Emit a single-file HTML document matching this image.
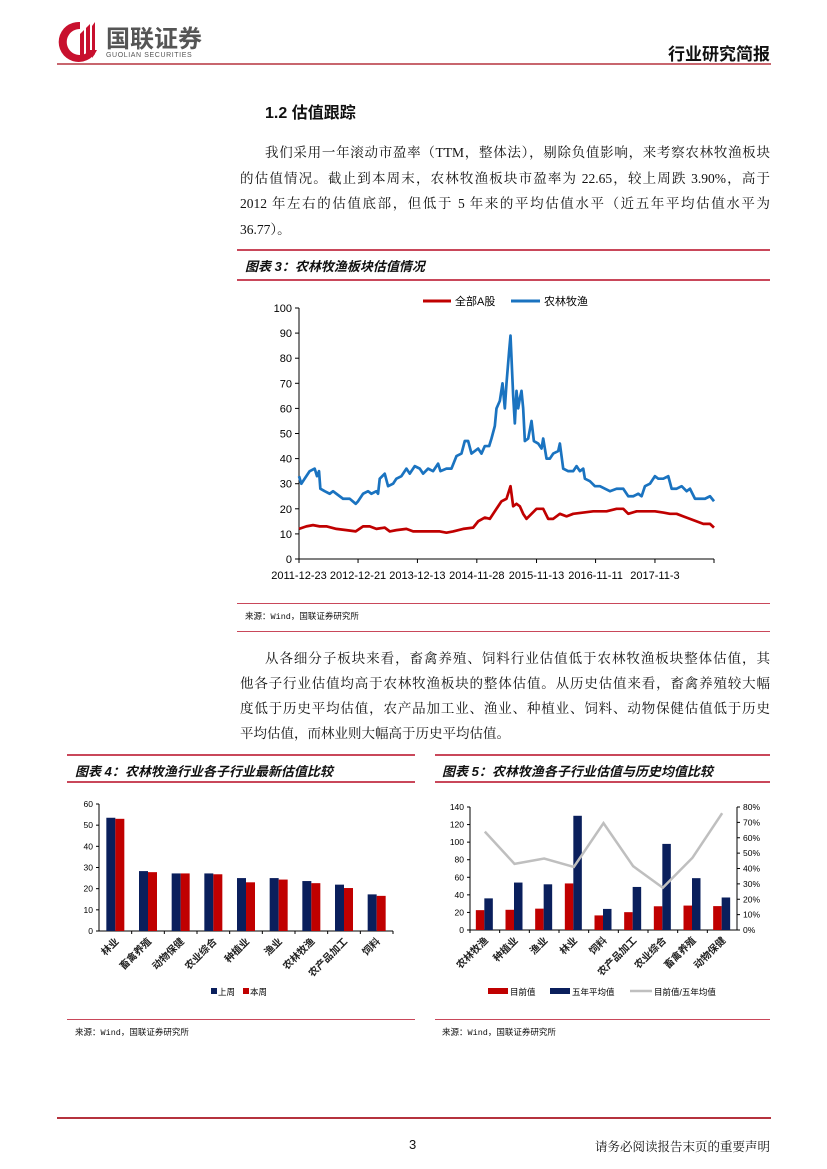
<!DOCTYPE html>
<html><head><meta charset="utf-8">
<style>
body{margin:0;background:#fff;}
#page{position:relative;width:827px;height:1169px;overflow:hidden;background:#fff;font-family:"Liberation Serif","Noto Serif CJK SC",serif;color:#111;}
.abs{position:absolute;white-space:nowrap;}
.pl{position:absolute;font-size:13.5px;text-align:justify;text-align-last:justify;white-space:nowrap;}
.ttl{position:absolute;font-family:"Liberation Sans","Noto Sans CJK SC",sans-serif;font-weight:bold;font-style:italic;font-size:13px;}
.src{position:absolute;font-size:8.5px;font-family:"Liberation Mono","Noto Sans CJK SC",monospace;}
.hl{position:absolute;height:2px;background:#c9475a;}
svg text{font-family:"Liberation Sans","Noto Sans CJK SC",sans-serif;}
</style></head><body>
<div id="page">
<svg class="abs" style="left:0;top:0" width="827" height="1169">
  <g>
    <path d="M80 22 A20 20 0 1 0 97 50 L90 50 A13 13 0 1 1 80 29 Z" fill="#c8102e"/>
    <path d="M80 58 L80 34 L84 30 L84 58 Z M86 58 L86 28 L90 24 L90 58 Z M92 58 L92 26 L95 22 L95 54 Z" fill="#c8102e"/>
    <text x="106" y="47" font-size="24" font-weight="bold" fill="#555">国联证券</text>
    <text x="106" y="57" font-size="7" fill="#555" letter-spacing="0.6">GUOLIAN SECURITIES</text>
  </g>
  <line x1="57" y1="64" x2="771" y2="64" stroke="#b5333e" stroke-width="1.5"/>
  <line x1="57" y1="1118" x2="771" y2="1118" stroke="#b5333e" stroke-width="2"/>
  <g id="c3"></g>
  <g id="c4"></g>
  <g id="c5"></g>
</svg>

<div class="abs" style="right:57px;top:40px;font-size:17px;font-weight:bold;font-family:'Liberation Sans','Noto Sans CJK SC',sans-serif">行业研究简报</div>
<div class="abs" style="left:265px;top:99px;font-size:16px;font-weight:bold;font-family:'Liberation Sans','Noto Sans CJK SC',sans-serif">1.2 估值跟踪</div>

<div>
<div class="pl" style="left:265px;top:141px;width:505px">我们采用一年滚动市盈率（TTM，整体法），剔除负值影响，来考察农林牧渔板块</div>
<div class="pl" style="left:240px;top:167px;width:530px">的估值情况。截止到本周末，农林牧渔板块市盈率为 22.65，较上周跌 3.90%，高于</div>
<div class="pl" style="left:240px;top:192px;width:530px">2012 年左右的估值底部，但低于 5 年来的平均估值水平（近五年平均估值水平为</div>
<div class="abs" style="left:240px;top:218px;font-size:13.5px">36.77）。</div>
</div>

<div class="hl" style="left:237px;top:249px;width:533px"></div>
<div class="ttl" style="left:245px;top:256px">图表 3：农林牧渔板块估值情况</div>
<div class="hl" style="left:237px;top:279px;width:533px"></div>
<div class="hl" style="left:237px;top:603px;width:533px;height:1px"></div>
<div class="src" style="left:245px;top:610px">来源：Wind，国联证券研究所</div>
<div class="hl" style="left:237px;top:631px;width:533px;height:1px"></div>

<div>
<div class="pl" style="left:265px;top:647px;width:505px">从各细分子板块来看，畜禽养殖、饲料行业估值低于农林牧渔板块整体估值，其</div>
<div class="pl" style="left:240px;top:672px;width:530px">他各子行业估值均高于农林牧渔板块的整体估值。从历史估值来看，畜禽养殖较大幅</div>
<div class="pl" style="left:240px;top:697px;width:530px">度低于历史平均估值，农产品加工业、渔业、种植业、饲料、动物保健估值低于历史</div>
<div class="abs" style="left:240px;top:722px;font-size:13.5px">平均估值，而林业则大幅高于历史平均估值。</div>
</div>

<div class="hl" style="left:67px;top:754px;width:348px"></div>
<div class="ttl" style="left:75px;top:761px">图表 4：农林牧渔行业各子行业最新估值比较</div>
<div class="hl" style="left:67px;top:781px;width:348px"></div>
<div class="hl" style="left:435px;top:754px;width:335px"></div>
<div class="ttl" style="left:442px;top:761px">图表 5：农林牧渔各子行业估值与历史均值比较</div>
<div class="hl" style="left:435px;top:781px;width:335px"></div>
<div class="hl" style="left:67px;top:1019px;width:348px;height:1px"></div>
<div class="hl" style="left:435px;top:1019px;width:335px;height:1px"></div>
<div class="src" style="left:75px;top:1026px">来源：Wind，国联证券研究所</div>
<div class="src" style="left:442px;top:1026px">来源：Wind，国联证券研究所</div>

<div class="abs" style="left:409px;top:1137px;font-size:13px;font-family:'Liberation Sans',sans-serif">3</div>
<div class="abs" style="right:57px;top:1137px;font-size:12.5px">请务必阅读报告末页的重要声明</div>
</div>

<script>
// ---- Chart 3 data (observation index along the time axis, 208..1452) ----
const c3Obs = [208,215,225,240,255,262,268,272,285,300,310,320,330,340,360,378,385,400,415,425,440,445,450,465,475,490,500,515,530,540,555,570,580,595,610,625,632,650,665,680,695,705,715,725,745,755,765,778,785,795,800,810,818,825,830,838,842,845,850,855,860,865,870,875,880,885,895,905,912,925,935,940,950,960,970,985,990,1000,1015,1030,1040,1050,1060,1065,1080,1095,1110,1125,1140,1160,1180,1195,1210,1225,1235,1245,1260,1275,1285,1300,1315,1325,1340,1355,1370,1380,1395,1410,1425,1440,1452];
const c3Agri = [33,30,32,35,36,33,35,28,27,26,27,26,25,24,24,22,23,26,27,26,27,26,32,34,29,30,32,33,36,34,37,36,34,36,35,38,35,36,36,41,42,47,47,42,44,42,45,45,48,53,60,63,70,60,70,83,89,80,65,54,67,60,64,67,60,47,48,55,47,46,44,48,40,40,42,43,46,36,35,35,37,35,36,32,31,29,29,28,27,28,28,25,25,26,25,29,30,33,32,32,33,28,28,29,27,28,24,24,24,25,23];
const c3RedObs = [208,230,250,270,290,320,350,378,400,420,440,465,480,500,530,550,580,600,630,650,670,700,730,745,765,780,800,815,830,842,850,860,870,880,890,905,920,940,955,970,990,1010,1030,1060,1090,1110,1130,1160,1180,1195,1220,1250,1275,1300,1320,1340,1360,1380,1400,1420,1440,1452];
const c3All = [12,13,13.5,13,13,12,11.5,11,13,13,12,12.5,11,11.5,12,11,11,11,11,10.5,11,12,12.5,15,16.5,16,20,23,24,29,21,22,21,18,16,18,20,20,16,16,18,17,18,18.5,19,19,19,20,20,18,19,19,19,18.5,18,18,17,16,15,14,14,12.5];
const c3YTicks = [0,10,20,30,40,50,60,70,80,90,100];
const c3XTicks = [208,385,563,741,920,1097,1275,1452];
const c3XLabels = ["2011-12-23","2012-12-21","2013-12-13","2014-11-28","2015-11-13","2016-11-11","2017-11-3",""];
// ---- Chart 4 data ----
const c4Cats = ["林业","畜禽养殖","动物保健","农业综合","种植业","渔业","农林牧渔","农产品加工","饲料"];
const c4Last = [53.5,28.3,27.2,27.2,25,25,23.6,21.9,17.3];
const c4This = [53,27.8,27.2,26.8,23,24.3,22.6,20.3,16.6];
const c4YTicks = [0,10,20,30,40,50,60];
// ---- Chart 5 data ----
const c5Cats = ["农林牧渔","种植业","渔业","林业","饲料","农产品加工","农业综合","畜禽养殖","动物保健"];
const c5Now = [22.6,23,24.3,53,16.6,20.3,27,27.8,27.2];
const c5Avg = [36,54,52,130,24,49,98,59,37];
const c5Ratio = [0.64,0.43,0.465,0.41,0.695,0.415,0.275,0.47,0.76];
const c5YTicks = [0,20,40,60,80,100,120,140];
const c5RTicks = [0,0.1,0.2,0.3,0.4,0.5,0.6,0.7,0.8];

const NS="http://www.w3.org/2000/svg";
function mk(p,tag,at,txt){const e=document.createElementNS(NS,tag);for(const k in at)e.setAttribute(k,at[k]);if(txt!==undefined)e.textContent=txt;p.appendChild(e);return e;}

// Chart 3
(function(){
const g=document.getElementById('c3');
const X0=299,X1=714,Y0=559,Y1=308;
const xs=v=>X0+(v-208)/(1452-208)*(X1-X0);
const ys=v=>Y0-v/100*(Y0-Y1);
mk(g,'line',{x1:X0,y1:Y1,x2:X0,y2:Y0,stroke:'#000','stroke-width':1});
mk(g,'line',{x1:X0,y1:Y0,x2:X1,y2:Y0,stroke:'#000','stroke-width':1});
c3YTicks.forEach(t=>{mk(g,'line',{x1:X0-4,y1:ys(t),x2:X0,y2:ys(t),stroke:'#000'});
 const l=mk(g,'text',{x:X0-7,y:ys(t)+4,'font-size':11,'text-anchor':'end'},t);
 
 });
c3XTicks.forEach((t,i)=>{mk(g,'line',{x1:xs(t),y1:Y0,x2:xs(t),y2:Y0+4,stroke:'#000'});
 const l=mk(g,'text',{x:xs(t),y:Y0+20,'font-size':11,'text-anchor':'middle'},c3XLabels[i]);
 
 });
const p1=mk(g,'polyline',{points:c3Agri.map((v,i)=>xs(c3Obs[i])+','+ys(v)).join(' '),fill:'none',stroke:'#1a73c0','stroke-width':2.7,'stroke-linejoin':'round'});


const p2=mk(g,'polyline',{points:c3All.map((v,i)=>xs(c3RedObs[i])+','+ys(v)).join(' '),fill:'none',stroke:'#c00000','stroke-width':2.7,'stroke-linejoin':'round'});


const lg=mk(g,'g',{});


mk(lg,'line',{x1:423,y1:301,x2:451,y2:301,stroke:'#c00000','stroke-width':3});
mk(lg,'text',{x:455,y:305,'font-size':11},'全部A股');
mk(lg,'line',{x1:511,y1:301,x2:540,y2:301,stroke:'#1a73c0','stroke-width':3});
mk(lg,'text',{x:544,y:305,'font-size':11},'农林牧渔');
})();

// Chart 4
(function(){
const g=document.getElementById('c4');
const X0=99,X1=393,Y0=931,Y1=804;
const bw=(X1-X0)/c4Cats.length;
const ys=v=>Y0-v/60*(Y0-Y1);
mk(g,'line',{x1:X0,y1:Y1,x2:X0,y2:Y0,stroke:'#000'});
mk(g,'line',{x1:X0,y1:Y0,x2:X1,y2:Y0,stroke:'#000'});
c4YTicks.forEach(t=>{mk(g,'line',{x1:X0-3,y1:ys(t),x2:X0,y2:ys(t),stroke:'#000'});
 const l=mk(g,'text',{x:X0-6,y:ys(t)+3,'font-size':8.5,'text-anchor':'end'},t);
 
 });
c4Cats.forEach((c,i)=>{
 const cx=X0+bw*(i+0.5);
 mk(g,'line',{x1:X0+bw*(i+1),y1:Y0,x2:X0+bw*(i+1),y2:Y0+3,stroke:'#000'});
 const b1=mk(g,'rect',{x:cx-9,y:ys(c4Last[i]),width:9,height:Y0-ys(c4Last[i]),fill:'#0a1f5c'});
 
 
 const b2=mk(g,'rect',{x:cx,y:ys(c4This[i]),width:9,height:Y0-ys(c4This[i]),fill:'#c00000'});
 
 
 const l=mk(g,'text',{x:cx+4,y:Y0+11,'font-size':10,'font-weight':'bold','fill':'#222','text-anchor':'end',transform:`rotate(-45 ${cx+4} ${Y0+11})`},c);
 
 
});
const lg=mk(g,'g',{});


mk(lg,'rect',{x:211,y:988,width:6,height:6,fill:'#0a1f5c'});
mk(lg,'text',{x:218,y:995,'font-size':8.5},'上周');
mk(lg,'rect',{x:243,y:988,width:6,height:6,fill:'#c00000'});
mk(lg,'text',{x:250,y:995,'font-size':8.5},'本周');
})();

// Chart 5
(function(){
const g=document.getElementById('c5');
const X0=470,X1=737,Y0=930,Y1=807;
const bw=(X1-X0)/c5Cats.length;
const ys=v=>Y0-v/140*(Y0-Y1);
const yr=v=>Y0-v/0.8*(Y0-Y1);
mk(g,'line',{x1:X0,y1:Y1,x2:X0,y2:Y0,stroke:'#000'});
mk(g,'line',{x1:X1,y1:Y1,x2:X1,y2:Y0,stroke:'#000'});
mk(g,'line',{x1:X0,y1:Y0,x2:X1,y2:Y0,stroke:'#000'});
c5YTicks.forEach(t=>{mk(g,'line',{x1:X0-3,y1:ys(t),x2:X0,y2:ys(t),stroke:'#000'});
 const l=mk(g,'text',{x:X0-6,y:ys(t)+3,'font-size':8.5,'text-anchor':'end'},t);
 
 });
c5RTicks.forEach(t=>{mk(g,'line',{x1:X1,y1:yr(t),x2:X1+3,y2:yr(t),stroke:'#000'});
 const l=mk(g,'text',{x:X1+6,y:yr(t)+3,'font-size':8.5},Math.round(t*100)+'%');
 
 });
c5Cats.forEach((c,i)=>{
 const cx=X0+bw*(i+0.5);
 mk(g,'line',{x1:X0+bw*i,y1:Y0,x2:X0+bw*i,y2:Y0+3,stroke:'#000'});
 const b1=mk(g,'rect',{x:cx-9,y:ys(c5Now[i]),width:8.5,height:Y0-ys(c5Now[i]),fill:'#c00000'});
 
 
 const b2=mk(g,'rect',{x:cx-0.5,y:ys(c5Avg[i]),width:8.5,height:Y0-ys(c5Avg[i]),fill:'#0a1f5c'});
 
 
 const l=mk(g,'text',{x:cx+4,y:Y0+11,'font-size':10,'font-weight':'bold','fill':'#222','text-anchor':'end',transform:`rotate(-45 ${cx+4} ${Y0+11})`},c);
 
 
});
const ln=mk(g,'polyline',{points:c5Ratio.map((v,i)=>(X0+bw*(i+0.5))+','+yr(v)).join(' '),fill:'none',stroke:'#bfbfbf','stroke-width':2.5});


const lg=mk(g,'g',{});


mk(lg,'rect',{x:488,y:988,width:20,height:6,fill:'#c00000'});
mk(lg,'text',{x:510,y:995,'font-size':8.5},'目前值');
mk(lg,'rect',{x:550,y:988,width:20,height:6,fill:'#0a1f5c'});
mk(lg,'text',{x:572,y:995,'font-size':8.5},'五年平均值');
mk(lg,'line',{x1:630,y1:991,x2:652,y2:991,stroke:'#bfbfbf','stroke-width':2.5});
mk(lg,'text',{x:654,y:995,'font-size':8.5},'目前值/五年均值');
})();
</script>
</body></html>
